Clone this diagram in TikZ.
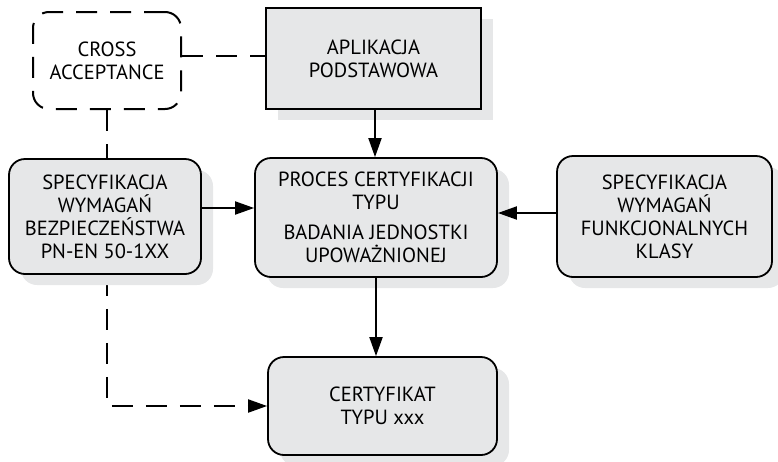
\documentclass[tikz,border=0pt]{standalone}
\usepackage{fontspec}
\setmainfont{PT Sans}
\usetikzlibrary{arrows.meta,shadows,backgrounds}
\definecolor{boxgray}{HTML}{E6E7E8}
\begin{document}
\begin{tikzpicture}[x=1pt,y=-1pt]
\tikzstyle{every node}+=[inner sep=0pt,align=center,font=\fontsize{20.5}{23}\selectfont]
\tikzstyle{shadowed}=[draw=black,line width=1.8pt,fill=boxgray,drop shadow={shadow xshift=12pt,shadow yshift=-11pt,fill=boxgray,opacity=1}]
\tikzstyle{roundbox}=[shadowed,rounded corners=16pt]
\tikzstyle{solidarrow}=[line width=2pt,-{Triangle[length=19pt,width=13pt]}]
\tikzstyle{dashline}=[line width=2pt,dash pattern=on 21pt off 13pt]
\useasboundingbox (0,0) rectangle (778,461);
\node [draw,dashline,rounded corners=16pt,minimum width=148pt,minimum height=97pt] (cross) at (107,60.5) {CROSS\\ACCEPTANCE};
\node [shadowed,minimum width=215pt,minimum height=101pt] (aplik) at (373.5,58.5) {APLIKACJA\\PODSTAWOWA};
\node [roundbox,minimum width=242pt,minimum height=119pt] (proces) at (376,217.5) {PROCES CERTYFIKACJI\\TYPU\\[7pt]BADANIA JEDNOSTKI\\UPOWAŻNIONEJ};
\node [roundbox,minimum width=192pt,minimum height=115pt] (specl) at (105,216.5) {SPECYFIKACJA\\WYMAGAŃ\\BEZPIECZEŃSTWA\\PN-EN 50-1XX};
\node [roundbox,minimum width=215pt,minimum height=121pt] (specr) at (664.5,216.5) {SPECYFIKACJA\\WYMAGAŃ\\FUNKCJONALNYCH\\KLASY};
\node [roundbox,minimum width=229pt,minimum height=98pt] (cert) at (382.5,406) {CERTYFIKAT\\TYPU xxx};
\begin{scope}[on background layer]
\draw [dashline] ([yshift=4.5pt]cross.east) -- ([yshift=4.5pt]cross.east -| aplik.west);
\draw [dashline] (cross.south) -- (cross.south |- specl.north);
\draw [dashline,-{Triangle[length=19pt,width=13pt]}] (cross.south |- specl.south) -- (cross.south |- cert.west) -- (cert.west);
\end{scope}
\draw [solidarrow] ([xshift=1.5pt]aplik.south) -- ([xshift=1.5pt]aplik.south |- proces.north);
\draw [solidarrow] ([yshift=8.5pt]specl.east) -- ([yshift=8.5pt]specl.east -| proces.west);
\draw [solidarrow] ([yshift=3.5pt]specr.west) -- ([yshift=3.5pt]specr.west -| proces.east);
\draw [solidarrow] (proces.south) -- (proces.south |- cert.north);
\end{tikzpicture}
\end{document}
